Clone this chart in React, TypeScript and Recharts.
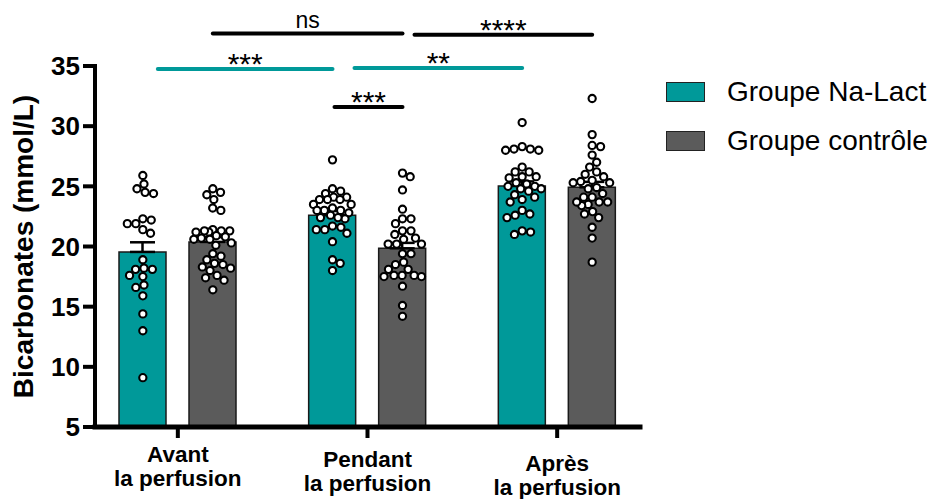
import React from 'react';
import { ComposedChart, Bar, XAxis, YAxis, Scatter, ErrorBar, ReferenceLine, Legend } from 'recharts';

// ---------------- data ----------------
const categories = ['Avant', 'Pendant', 'Après'];
const categorySub = ['la perfusion', 'la perfusion', 'la perfusion'];
const seriesNames = ['Groupe Na-Lact', 'Groupe contrôle'];
const naLactMean = [19.55, 22.6, 25.03];
const controlMean = [20.38, 19.85, 24.92];
const naLactSem = [0.8, 0.35, 0.38];
const controlSem = [0.4, 0.45, 0.45];

const naLactAvant = [25.9, 24.8, 24.4, 24.5, 25.2, 21.9, 22.3, 21.4, 22.2, 21.9, 21.1, 18.9, 18.1, 18.1, 18.2, 17.6, 17.5, 16.6, 16.8, 15.9, 14.4, 13.0, 9.1];
const controlAvant = [24.5, 24.3, 24.8, 23.9, 23.0, 23.2, 21.4, 21.3, 21.2, 21.2, 21.3, 21.3, 20.9, 20.7, 20.6, 20.6, 20.8, 20.3, 20.1, 19.4, 19.2, 18.9, 18.5, 18.2, 18.3, 18.6, 17.6, 17.4, 17.2, 18.0, 16.4];
const naLactPendant = [27.2, 24.1, 24.6, 24.4, 24.8, 24.1, 23.9, 23.9, 23.5, 23.5, 23.9, 23.0, 22.8, 23.0, 23.0, 23.2, 22.3, 22.4, 22.4, 22.6, 21.6, 21.4, 21.4, 21.7, 21.1, 20.4, 18.9, 18.6, 18.0];
const controlPendant = [25.8, 26.1, 24.7, 23.1, 22.3, 22.3, 21.9, 21.0, 21.3, 21.3, 20.6, 20.2, 20.2, 20.2, 20.7, 19.4, 18.7, 19.4, 18.5, 18.1, 17.6, 17.5, 17.6, 17.6, 18.1, 17.5, 16.7, 15.1, 14.2];
const naLactApres = [30.3, 28.1, 28.0, 28.0, 28.1, 28.3, 26.6, 26.2, 25.8, 25.8, 25.7, 26.2, 25.3, 25.0, 24.8, 24.8, 25.0, 25.2, 24.6, 24.1, 23.7, 23.9, 24.3, 23.0, 22.6, 22.4, 22.7, 21.3, 21.0, 21.2];
const controlApres = [32.3, 29.3, 28.3, 28.4, 27.6, 27.0, 26.6, 26.0, 26.2, 25.3, 25.5, 25.4, 25.8, 25.3, 24.9, 24.4, 24.8, 24.1, 24.1, 23.7, 23.5, 23.4, 23.7, 23.7, 22.9, 22.4, 22.7, 21.6, 20.7, 18.7];

const yTicks = [5, 10, 15, 20, 25, 30, 35];

// significance annotations: [category index, group index (0 Na-Lact, 1 contrôle)]
const significance = [
  { from: [0, 1], to: [1, 1], label: 'ns', level: 37.7, teal: false },
  { from: [1, 1], to: [2, 1], label: '****', level: 37.6, teal: false },
  { from: [0, 0], to: [1, 0], label: '***', level: 34.76, teal: true },
  { from: [1, 0], to: [2, 0], label: '**', level: 34.84, teal: true },
  { from: [1, 0], to: [1, 1], label: '***', level: 31.6, teal: false },
];

// ---------------- layout / style ----------------
const FONT = '"Liberation Sans", Arial, Helvetica, sans-serif';
const TEAL = '#009999';
const GREY = '#5b5b5b';
const W = 931;
const H = 491;
const BAR = 47;
const GAP = 23;
const X_PAD = -12;
const PLOT_W = 545;
const PLOT_H = 361;
const PX_PER_X = (PLOT_W - 2 * X_PAD) / 3;
const PX_PER_Y = PLOT_H / 30;
const GROUP_OFF = (BAR / 2 + GAP / 2) / PX_PER_X;
const DOT_D = 8.5;
const MAX_SPREAD = 19;
const startInsets = [0, 12, 15, 22, 2];
const labelShift = [0, 5, 9];

function swarm(values: number[]): number[] {
  const order = values.map((_, i) => i).sort((a, b) => values[b] - values[a]);
  const placed: { x: number; y: number }[] = [];
  const offs = new Array(values.length).fill(0);
  const minDist = (c: number, y: number, near: { x: number; y: number }[]) =>
    near.reduce((m, p) => Math.min(m, Math.hypot(p.x - c, p.y - y)), Infinity);
  for (const i of order) {
    const y = values[i] * PX_PER_Y;
    const near = placed.filter((p) => Math.abs(p.y - y) < DOT_D);
    const cands = [0];
    for (const p of near) {
      const dx = Math.sqrt(DOT_D * DOT_D - (p.y - y) * (p.y - y));
      cands.push(p.x + dx, p.x - dx);
    }
    cands.sort((a, b) => Math.abs(a) - Math.abs(b));
    let best: number | null = null;
    for (const c of cands) {
      if (Math.abs(c) > MAX_SPREAD) continue;
      if (minDist(c, y, near) >= DOT_D - 1e-6) {
        best = c;
        break;
      }
    }
    if (best === null) {
      let bestD = -1;
      for (let c = -MAX_SPREAD; c <= MAX_SPREAD; c += 0.5) {
        const d = minDist(c, y, near);
        if (d > bestD + 1e-6 || (Math.abs(d - bestD) < 1e-6 && Math.abs(c) < Math.abs(best as number))) {
          bestD = d;
          best = c;
        }
      }
    }
    offs[i] = best as number;
    placed.push({ x: best as number, y });
  }
  return offs;
}

const groups = [
  [naLactAvant, controlAvant],
  [naLactPendant, controlPendant],
  [naLactApres, controlApres],
];

const points: { x: number; y: number }[] = [];
groups.forEach((pair, ci) => {
  pair.forEach((vals, gi) => {
    const offs = swarm(vals);
    vals.forEach((v, k) => {
      points.push({ x: ci + (gi === 0 ? -GROUP_OFF : GROUP_OFF) + offs[k] / PX_PER_X, y: v });
    });
  });
});

const rows = categories.map((c, i) => ({
  cat: c,
  na: naLactMean[i],
  ctrl: controlMean[i],
  naErr: [0, naLactSem[i]],
  ctrlErr: [0, controlSem[i]],
}));

const barCenter = (ci: number, gi: number) => ci + (gi === 0 ? -GROUP_OFF : GROUP_OFF);

const XTick = (props: any) => {
  const { x, y, payload } = props;
  const i = categories.indexOf(payload.value);
  const s = labelShift[i] ?? 0;
  return (
    <g transform={`translate(${x},${y + s})`}>
      <text textAnchor="middle" fontFamily={FONT} fontSize={22.5} fontWeight="bold" fill="#000">
        <tspan x={0} y={22}>{payload.value}</tspan>
      </text>
      <text textAnchor="middle" fontFamily={FONT} fontSize={22.5} fontWeight="bold" fill="#000">
        <tspan x={0} y={46}>{categorySub[i]}</tspan>
      </text>
    </g>
  );
};

const makeSigLabel = (text: string) => (props: any) => {
  const vb = props.viewBox || {};
  const x1 = vb.x1 ?? vb.x;
  const x2 = vb.x2 ?? vb.x + (vb.width || 0);
  const y = vb.y1 ?? vb.y;
  const stars = text.includes('*');
  return (
    <text
      x={(x1 + x2) / 2}
      y={y + (stars ? 5 : -6)}
      textAnchor="middle"
      fontFamily={FONT}
      fontSize={stars ? 30 : 23}
      fill="#000"
    >
      {text}
    </text>
  );
};

const YLabel = (props: any) => {
  const vb = props.viewBox || { x: 0, y: 58, width: 87, height: PLOT_H };
  const cy = vb.y + vb.height / 2;
  return (
    <text
      transform={`translate(${vb.x + 15},${cy}) rotate(-90)`}
      textAnchor="middle"
      dominantBaseline="central"
      fontFamily={FONT}
      fontSize={28}
      fontWeight="bold"
      fill="#000"
    >
      Bicarbonates (mmol/L)
    </text>
  );
};

const LegendBox = () => (
  <div style={{ fontFamily: FONT }}>
    {seriesNames.map((n, i) => (
      <div key={n} style={{ display: 'flex', alignItems: 'center', height: 21, marginBottom: 28 }}>
        <div
          style={{
            width: 37,
            height: 18,
            background: i === 0 ? TEAL : GREY,
            border: '1.5px solid #222',
            flex: 'none',
          }}
        />
        <span style={{ marginLeft: 22, fontSize: 28, color: '#000', lineHeight: '21px', whiteSpace: 'nowrap' }}>{n}</span>
      </div>
    ))}
  </div>
);

export default function App() {
  return (
    <div style={{ width: W, height: H }}>
      <style>{'html,body{overflow:hidden}.recharts-surface{overflow:visible}'}</style>
      <ComposedChart
        width={W}
        height={H}
        data={rows}
        margin={{ top: 58, right: 299, bottom: 0, left: 0 }}
        barSize={BAR}
        barGap={GAP}
      >
        <XAxis
          dataKey="cat"
          height={72}
          padding={{ left: X_PAD, right: X_PAD }}
          axisLine={{ stroke: '#000', strokeWidth: 5, strokeLinecap: 'square' }}
          tickLine={{ stroke: '#000', strokeWidth: 4 }}
          tickSize={11}
          tickMargin={2}
          tick={<XTick />}
          interval={0}
        />
        <XAxis
          xAxisId="num"
          type="number"
          dataKey="x"
          domain={[-0.5, 2.5]}
          allowDataOverflow
          padding={{ left: X_PAD, right: X_PAD }}
          hide
        />
        <YAxis
          width={87}
          type="number"
          domain={[5, 35]}
          ticks={yTicks}
          allowDataOverflow
          interval={0}
          axisLine={{ stroke: '#000', strokeWidth: 4, strokeLinecap: 'square' }}
          tickLine={{ stroke: '#000', strokeWidth: 4 }}
          tickSize={12}
          tickMargin={3}
          tick={{ fill: '#000', fontSize: 26, fontWeight: 'bold', fontFamily: FONT }}
          label={<YLabel />}
        />
        <Legend
          layout="vertical"
          align="center"
          verticalAlign="middle"
          wrapperStyle={{ position: 'absolute', left: 658, top: 73, width: 280, height: 100 }}
          content={() => <LegendBox />}
        />
        <Bar dataKey="na" name={seriesNames[0]} fill={TEAL} stroke="#1a1a1a" strokeWidth={1.5} isAnimationActive={false}>
          <ErrorBar dataKey="naErr" width={12.5} stroke="#000" strokeWidth={2.5} direction="y" />
        </Bar>
        <Bar dataKey="ctrl" name={seriesNames[1]} fill={GREY} stroke="#1a1a1a" strokeWidth={1.5} isAnimationActive={false}>
          <ErrorBar dataKey="ctrlErr" width={12.5} stroke="#000" strokeWidth={2.5} direction="y" />
        </Bar>
        <Scatter
          data={points}
          xAxisId="num"
          dataKey="y"
          legendType="none"
          isAnimationActive={false}
          shape={(p: any) => <circle cx={p.cx} cy={p.cy} r={3.6} fill="#fff" stroke="#000" strokeWidth={2.1} />}
        />
        {significance.map((s, i) => {
          const a = barCenter(s.from[0], s.from[1]) + startInsets[i] / PX_PER_X;
          const b = barCenter(s.to[0], s.to[1]);
          return (
            <ReferenceLine
              key={i}
              xAxisId="num"
              segment={[{ x: a, y: s.level }, { x: b, y: s.level }]}
              ifOverflow="visible"
              stroke={s.teal ? TEAL : '#000'}
              strokeWidth={4}
              strokeLinecap="round"
              label={makeSigLabel(s.label)}
            />
          );
        })}
      </ComposedChart>
    </div>
  );
}
